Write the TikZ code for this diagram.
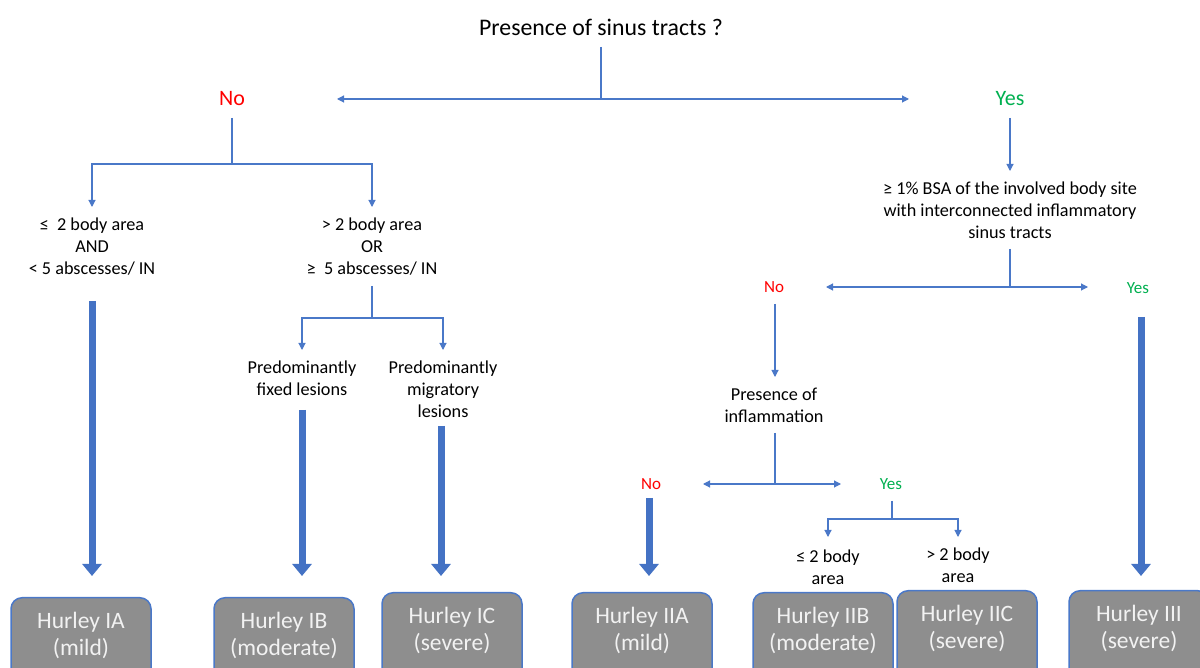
\documentclass[tikz,border=0pt]{standalone}
\usepackage{fontspec}
\setmainfont{Carlito}
\usetikzlibrary{arrows.meta}
\definecolor{lnblue}{HTML}{4A78C8}
\definecolor{thblue}{HTML}{4472C4}
\definecolor{nored}{HTML}{FF0000}
\definecolor{yesgreen}{HTML}{00B050}
\definecolor{boxgray}{HTML}{8E8E8E}
\definecolor{boxtxt}{HTML}{F2F2F2}
\begin{document}
\begin{tikzpicture}[x=1pt,y=1pt,
  ln/.style={draw=lnblue, line width=1.1pt},
  tip/.style={-{Triangle[width=7pt,length=7pt]}},
  tips/.style={{Triangle[width=7pt,length=7pt]}-{Triangle[width=7pt,length=7pt]}},
  fat/.style={draw=thblue, line width=7pt, -{Triangle[width=19pt,length=12pt]}},
  ttl/.style={font=\fontsize{23.8}{28}\selectfont, inner sep=2pt},
  txt/.style={align=center, font=\fontsize{18.2}{22}\selectfont, inner sep=2pt},
  bigans/.style={font=\fontsize{22}{26}\selectfont, inner sep=2pt},
  smans/.style={font=\fontsize{17}{20}\selectfont, inner sep=2pt},
  hbox/.style={draw=lnblue, line width=1.5pt, fill=boxgray, rounded corners=11pt,
    minimum width=140pt, minimum height=110pt, anchor=north, inner sep=0pt},
  htxt/.style={align=center, text=boxtxt, font=\fontsize{23.5}{27}\selectfont, inner sep=0pt}
]
\useasboundingbox (0,0) rectangle (1200,667);
\clip (0,0) rectangle (1200,667);
\fill[white] (0,0) rectangle (1200,667);

% ---- text nodes
\node[ttl] (title) at (601,640) {Presence of sinus tracts ?};
\node[bigans, text=nored] (no1) at (232,568) {No};
\node[bigans, text=yesgreen] (yes1) at (1010,568) {Yes};
\node[txt] (ca) at (92,420) {≤ \ 2 body area\\AND\\< 5 abscesses/ IN};
\node[txt] (cb) at (372,420) {> 2 body area\\OR\\≥ \ 5 abscesses/ IN};
\node[txt] (fx) at (302,289) {Predominantly\\fixed lesions};
\node[txt] (mg) at (443,278) {Predominantly\\migratory\\lesions};
\node[txt] (bsa) at (1010,457) {≥ 1\% BSA of the involved body site\\with interconnected inflammatory\\sinus tracts};
\node[smans, text=nored] (no2) at (774,380) {No};
\node[smans, text=yesgreen] (yes2) at (1138,379) {Yes};
\node[txt] (inf) at (774,262) {Presence of\\inflammation};
\node[smans, text=nored] (no3) at (651,183) {No};
\node[smans, text=yesgreen] (yes3) at (891,183) {Yes};
\node[txt] (le2) at (828,100) {≤ 2 body\\area};
\node[txt] (gt2) at (958,102) {> 2 body\\area};

% ---- result boxes
\node[hbox] (hia) at (81,70) {};
\node[htxt] (hiat) at ([yshift=-38.5pt]hia.north) {Hurley IA\\(mild)};
\node[hbox] (hib) at (284,70) {};
\node[htxt] (hibt) at ([yshift=-38.5pt]hib.north) {Hurley IB\\(moderate)};
\node[hbox] (hic) at (452,75) {};
\node[htxt] (hict) at ([yshift=-38.5pt]hic.north) {Hurley IC\\(severe)};
\node[hbox] (hiia) at (642,75) {};
\node[htxt] (hiiat) at ([yshift=-38.5pt]hiia.north) {Hurley IIA\\(mild)};
\node[hbox] (hiib) at (823,75) {};
\node[htxt] (hiibt) at ([yshift=-38.5pt]hiib.north) {Hurley IIB\\(moderate)};
\node[hbox] (hiic) at (967,77) {};
\node[htxt] (hiict) at ([yshift=-38.5pt]hiic.north) {Hurley IIC\\(severe)};
\node[hbox] (hiii) at (1139,77) {};
\node[htxt] (hiiit) at ([yshift=-38.5pt]hiii.north) {Hurley III\\(severe)};

% ---- connector coordinates
\coordinate (t0) at (601,620);
\coordinate (j0) at (601,568);
\coordinate (m1) at (337,568);
\coordinate (m2) at (909,568);
\coordinate (n1a) at (232,549);
\coordinate (n1b) at (232,503);
\coordinate (ta) at (92,460);
\coordinate (tb) at (372,460);
\coordinate (b1) at (372,381);
\coordinate (jb) at (372,349);
\coordinate (tfx) at (302,317);
\coordinate (tmg) at (443,317);
\coordinate (y1a) at (1010,549);
\coordinate (y1b) at (1010,496);
\coordinate (s1) at (1010,418);
\coordinate (s2) at (1010,380);
\coordinate (s3) at (826,380);
\coordinate (s4) at (1088,380);
\coordinate (n2a) at (775,363);
\coordinate (n2b) at (775,290);
\coordinate (i1) at (775,234);
\coordinate (i2) at (775,183);
\coordinate (i3) at (703,183);
\coordinate (i4) at (841,183);
\coordinate (y3a) at (892,166);
\coordinate (y3b) at (892,148);
\coordinate (tle) at (828,130);
\coordinate (tgt) at (958,130);

% ---- thin connectors
\draw[ln] (t0) -- (j0);
\draw[ln,tips] (m1) -- (m2);
\draw[ln] (n1a) -- (n1b);
\draw[ln,tip] (n1b) -| (ta);
\draw[ln,tip] (n1b) -| (tb);
\draw[ln] (b1) -- (jb);
\draw[ln,tip] (jb) -| (tfx);
\draw[ln,tip] (jb) -| (tmg);
\draw[ln,tip] (y1a) -- (y1b);
\draw[ln] (s1) -- (s2);
\draw[ln,tips] (s3) -- (s4);
\draw[ln,tip] (n2a) -- (n2b);
\draw[ln] (i1) -- (i2);
\draw[ln,tips] (i3) -- (i4);
\draw[ln] (y3a) -- (y3b);
\draw[ln,tip] (y3b) -| (tle);
\draw[ln,tip] (y3b) -| (tgt);

% ---- thick arrows
\coordinate (fa1) at (92,366);   \coordinate (fa2) at (92,91);
\coordinate (fb1) at (302,257);  \coordinate (fb2) at (302,91);
\coordinate (fc1) at (441,241);  \coordinate (fc2) at (441,91);
\coordinate (fd1) at (649,169);  \coordinate (fd2) at (649,91);
\coordinate (fe1) at (1141,350); \coordinate (fe2) at (1141,91);
\draw[fat] (fa1) -- (fa2);
\draw[fat] (fb1) -- (fb2);
\draw[fat] (fc1) -- (fc2);
\draw[fat] (fd1) -- (fd2);
\draw[fat] (fe1) -- (fe2);
\end{tikzpicture}
\end{document}
